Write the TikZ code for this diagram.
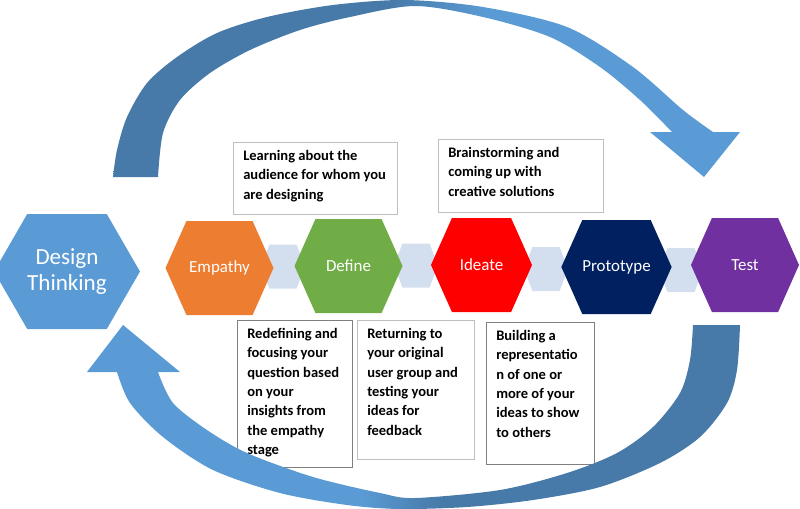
\documentclass[tikz,border=0pt]{standalone}
\usepackage{fontspec}
\setmainfont{Carlito}
\usetikzlibrary{shapes.symbols}
\definecolor{hexblue}{HTML}{5B9BD5}
\definecolor{hexorange}{HTML}{ED7D31}
\definecolor{hexgreen}{HTML}{70AD47}
\definecolor{hexred}{HTML}{FF0000}
\definecolor{hexnavy}{HTML}{002060}
\definecolor{hexpurple}{HTML}{7030A0}
\definecolor{linkblue}{HTML}{D3DEEF}
\definecolor{arrowdark}{HTML}{477AA8}
\definecolor{arrowlight}{HTML}{5B9BD5}
\definecolor{boxgrey1}{HTML}{BFBFBF}
\definecolor{boxgrey2}{HTML}{7F7F7F}
\pgfdeclarehorizontalshading{toparrowshade}{100bp}{color(0bp)=(arrowdark); color(47bp)=(arrowdark); color(55bp)=(arrowlight); color(100bp)=(arrowlight)}
\pgfdeclarehorizontalshading{bottomarrowshade}{100bp}{color(0bp)=(arrowlight); color(46bp)=(arrowlight); color(52bp)=(arrowdark); color(100bp)=(arrowdark)}
\tikzset{
  hexnode/.style={shape=signal, signal to=west and east, signal pointer angle=132,
    minimum width=81pt, minimum height=70.5pt, inner sep=0pt, fill=#1, text=white,
    font=\fontsize{12.7}{15}\selectfont},
  linknode/.style={shape=signal, signal to=west and east, signal pointer angle=138,
    minimum width=33pt, minimum height=33pt, inner sep=0pt, fill=linkblue},
  notebox/.style={draw=#1, fill=white, line width=0.75pt, anchor=north west, inner sep=0pt},
  notetext/.style={anchor=north west, align=left, inner xsep=7.5pt, inner ysep=6pt,
    font=\bfseries\fontsize{10.9}{14.5}\selectfont}
}
\begin{document}
\begin{tikzpicture}[x=0.75pt, y=-0.75pt]
\useasboundingbox (0,0) rectangle (800,508);
\clip (0,0) rectangle (800,508);
\node[linknode] (link1) at (283,266.5) {};
\node[linknode] (link2) at (416,265.5) {};
\node[linknode] (link3) at (546,269) {};
\node[linknode] (link4) at (681,270) {};
\node[hexnode=hexblue, signal pointer angle=120, minimum width=99pt, minimum height=86.25pt,
  align=center, font=\fontsize{17.3}{19.5}\selectfont] (design) at (67,271.5) {Design\\Thinking};
\node[hexnode=hexorange] (empathy) at (219.5,268) {Empathy};
\node[hexnode=hexgreen] (define) at (348.5,266) {Define};
\node[hexnode=hexred, minimum width=75.75pt] (ideate) at (481.5,265) {Ideate};
\node[hexnode=hexnavy] (prototype) at (616.5,267) {Prototype};
\node[hexnode=hexpurple] (test) at (745,265) {Test};
\node[notebox=boxgrey1, minimum width=123pt, minimum height=54pt] (empathybox) at (233,142) {};
\node[notetext] (empathytext) at (empathybox.north west) {Learning about the\\audience for whom you\\are designing};
\node[notebox=boxgrey1, minimum width=123.75pt, minimum height=54.75pt] (ideatebox) at (438,139) {};
\node[notetext] (ideatetext) at (ideatebox.north west) {Brainstorming and\\coming up with\\creative solutions};
\node[notebox=boxgrey2, minimum width=86.25pt, minimum height=110.25pt] (definebox) at (237,320) {};
\node[notetext] (definetext) at (definebox.north west) {Redefining and\\focusing your\\question based\\on your\\insights from\\the empathy\\stage};
\node[notebox=boxgrey1, minimum width=87.75pt, minimum height=104.25pt] (testbox) at (357,320) {};
\node[notetext] (testtext) at (testbox.north west) {Returning to\\your original\\user group and\\testing your\\ideas for\\feedback};
\node[notebox=boxgrey2, minimum width=81pt, minimum height=106.5pt] (prototypebox) at (486,322) {};
\node[notetext] (prototypetext) at (prototypebox.north west) {Building a\\representatio\\n of one or\\more of your\\ideas to show\\to others};
\shade[shading=toparrowshade] plot[smooth] coordinates {(113,177) (117,150) (127,117) (147,83) (177,57) (217,33) (267,17) (333,5) (405,0) (483,7) (567,27) (633,67) (683,110) (713,132)}
  -- (740,132) -- (704,177) -- (650,132)
  -- plot[smooth] coordinates {(672,132) (640,100) (600,67) (550,37) (483,17) (415,6) (350,17) (300,30) (250,50) (210,73) (180,100) (163,133) (158,177)} -- cycle;
\shade[shading=bottomarrowshade] (123,325) -- (180,372)
  -- plot[smooth] coordinates {(158,372) (173,403) (207,430) (247,453) (313,477) (380,493) (415,498) (500,490) (567,473) (617,453) (653,427) (680,393) (690,360) (693,325)}
  -- plot[smooth] coordinates {(740,325) (737,370) (727,403) (700,437) (660,463) (600,487) (533,500) (467,507) (400,509) (347,505) (280,493) (213,470) (163,437) (130,403) (117,372)}
  -- (87,372) -- cycle;
\end{tikzpicture}
\end{document}
